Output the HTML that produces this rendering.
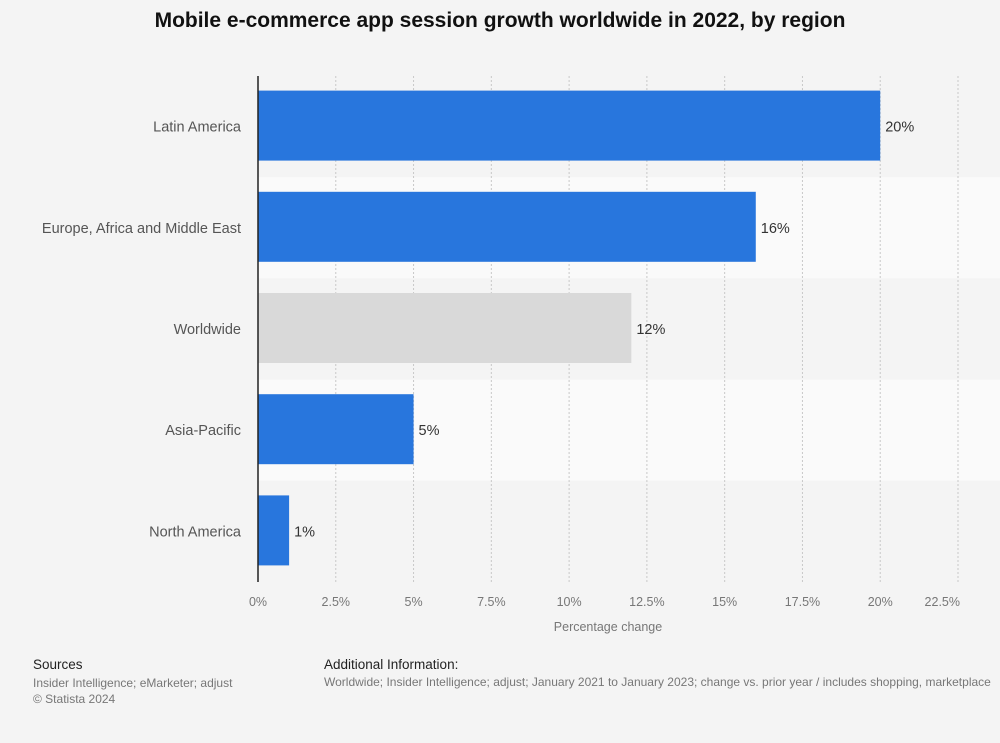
<!DOCTYPE html>
<html><head><meta charset="utf-8"><style>
body{margin:0;background:#f4f4f4;font-family:"Liberation Sans",Arial,sans-serif;}
#wrap{position:relative;width:1000px;height:743px;overflow:hidden;background:#f4f4f4;}
.t{position:absolute;white-space:nowrap;}
</style></head><body>
<div id="wrap">
<div class="t" style="left:0;width:1000px;text-align:center;top:9px;font-size:21px;font-weight:bold;color:#111;">Mobile e-commerce app session growth worldwide in 2022, by region</div>
<svg id="chart" width="1000" height="650" style="position:absolute;left:0;top:0"></svg>
<div class="t" style="left:33px;top:657px;font-size:13.5px;color:#222;">Sources</div>
<div class="t" style="left:33px;top:675px;font-size:12px;color:#777;line-height:16px;">Insider Intelligence; eMarketer; adjust<br>© Statista 2024</div>
<div class="t" style="left:324px;top:657px;font-size:13.5px;color:#222;">Additional Information:</div>
<div class="t" style="left:324px;top:675px;font-size:12px;color:#777;">Worldwide; Insider Intelligence; adjust; January 2021 to January 2023; change vs. prior year / includes shopping, marketplace</div>
</div>
<script>
const categories=["Latin America","Europe, Africa and Middle East","Worldwide","Asia-Pacific","North America"];
const values=[20,16,12,5,1];
const valueLabels=["20%","16%","12%","5%","1%"];
const ticks=[0,2.5,5,7.5,10,12.5,15,17.5,20,22.5];
const tickLabels=["0%","2.5%","5%","7.5%","10%","12.5%","15%","17.5%","20%","22.5%"];
const NS="http://www.w3.org/2000/svg";
const svg=document.getElementById('chart');
const x0=258,x1=958,yTop=76,yBot=582,xMax=22.5;
const xs=v=>x0+(v/xMax)*(x1-x0);
const band=(yBot-yTop)/categories.length;
function mk(t,a){const e=document.createElementNS(NS,t);for(const k in a)e.setAttribute(k,a[k]);svg.appendChild(e);return e;}
categories.forEach((c,i)=>{
  const b=mk('rect',{x:x0,y:yTop+i*band,width:1000-x0,height:band,fill:i%2?'#fafafa':'#f4f4f4'});
  
  
});
ticks.forEach((t,i)=>{
  if(i>0){const g=mk('line',{x1:xs(t),x2:xs(t),y1:yTop,y2:yBot,stroke:'#c8c8c8','stroke-dasharray':'2,2'});
  
  }
  const last=i===ticks.length-1;
  const l=mk('text',{x:last?960:xs(t),y:606,'text-anchor':last?'end':'middle','font-size':12.5,fill:'#777','font-family':'Liberation Sans'});
  l.textContent=tickLabels[i];
  
  
});
categories.forEach((c,i)=>{
  const yc=yTop+i*band+band/2;
  const r=mk('rect',{x:x0,y:yc-36,width:xs(values[i])-x0,height:70,fill:c==='Worldwide'?'#d9d9d9':'#2876dd'});
  
  
  const v=mk('text',{x:xs(values[i])+5,y:yc+5,'font-size':14.5,fill:'#333','font-family':'Liberation Sans'});
  v.textContent=valueLabels[i];
  
  
  const cl=mk('text',{x:241,y:yc+5,'text-anchor':'end','font-size':14.5,fill:'#555','font-family':'Liberation Sans'});
  cl.textContent=c;
  
  
});
const ax=mk('line',{x1:x0,x2:x0,y1:yTop,y2:yBot,stroke:'#222','stroke-width':1.5});


const at=mk('text',{x:608,y:631,'text-anchor':'middle','font-size':12.5,fill:'#777','font-family':'Liberation Sans'});
at.textContent='Percentage change';


</script>
</body></html>
